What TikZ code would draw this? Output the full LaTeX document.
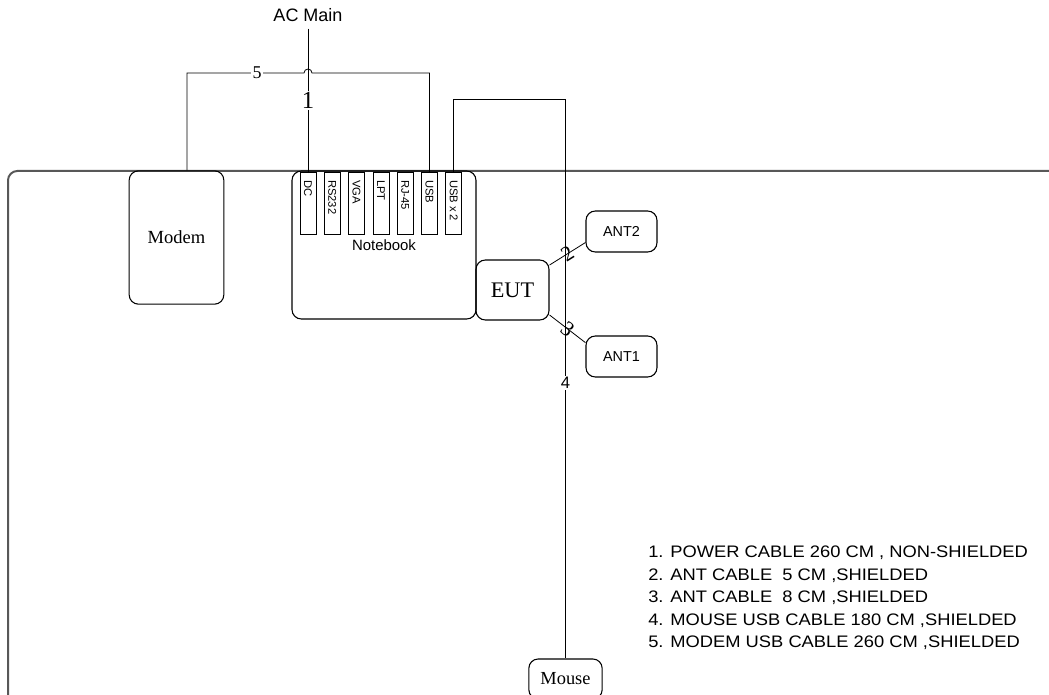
\documentclass[tikz,border=0pt]{standalone}
\usepackage{fontspec}
\setmainfont{Liberation Serif}
\setsansfont{Liberation Sans}
\newfontfamily\legendfont{Liberation Sans}[FakeStretch=1.1]
\usetikzlibrary{positioning}
\definecolor{tableGray}{RGB}{88,88,88}

\begin{document}
\begin{tikzpicture}[x=0.75pt, y=-0.75pt,
  box/.style={draw, rounded corners=7pt, line width=0.8pt, inner sep=0pt},
  port/.style={draw, line width=0.6pt, minimum width=12pt, minimum height=47pt, inner sep=0pt},
  portlbl/.style={font=\sffamily\fontsize{8.4}{9}\selectfont, inner sep=0pt, rotate=-90, anchor=west},
  cable/.style={line width=0.6pt},
  cablelbl/.style={font=\fontsize{13.5}{14}\selectfont, inner sep=1pt},
  legend/.style={font=\legendfont\fontsize{12.5}{15}\selectfont, inner sep=0pt, anchor=west}]
  \useasboundingbox (0,0) rectangle (1049,695);
  % table
  \draw[line width=1.5pt, color=tableGray, rounded corners=7pt]
    (1060,171) -- (8,171) -- (8,710);
  % equipment
  \node[box, minimum width=71pt, minimum height=100pt, font=\fontsize{13.9}{15}\selectfont]
    (modem) at (176.5,237.5) {Modem};
  \node[box, minimum width=138pt, minimum height=111pt, font=\sffamily\fontsize{11.2}{12}\selectfont]
    (notebook) at (384,245) {Notebook};
  \foreach \lbl [count=\i] in {DC,RS232,VGA,LPT,RJ-45,USB,USB x 2} {
    \node[port] (p\i) at (308+24.3*\i-24.3,203.5) {};
    \node[portlbl] at ([yshift=-6pt]p\i.north) {\lbl};
  }
  \node[box, minimum width=54.75pt, minimum height=45pt, font=\fontsize{16.7}{18}\selectfont]
    (eut) at (512.5,290) {EUT};
  \node[box, minimum width=53.25pt, minimum height=30.75pt, font=\sffamily\fontsize{10.8}{12}\selectfont]
    (ant2) at (621.5,231.5) {ANT2};
  \node[box, minimum width=53.25pt, minimum height=30.75pt, font=\sffamily\fontsize{10.8}{12}\selectfont]
    (ant1) at (621.5,356.5) {ANT1};
  \node[box, minimum width=55pt, minimum height=30pt, font=\fontsize{13.8}{15}\selectfont]
    (mouse) at (565.5,679) {Mouse};
  \node[font=\sffamily\fontsize{13.5}{15}\selectfont, inner sep=0pt]
    (acmain) at (308,15) {AC Main};
  % cables
  \draw[cable] ([yshift=-5pt]acmain.south) -- node[cablelbl, fill=white, font=\fontsize{18.5}{20}\selectfont]{1} (p1.north);
  \draw[cable] ([xshift=7.9pt]modem.north) |- node[cablelbl, fill=white, pos=0.8]{5} (304,73)
    arc[start angle=180, end angle=0, radius=3pt] -| (p6.north);
  \draw[cable] (eut.34) -- node[cablelbl, sloped, font=\fontsize{16}{17}\selectfont]{2} (ant2.197);
  \draw[cable] (eut.-34) -- node[cablelbl, sloped, font=\fontsize{16}{17}\selectfont]{3} (ant1.159);
  \draw[cable] (p7.north) |- (565.5,99) -- node[cablelbl, fill=white, pos=0.507, font=\sffamily\fontsize{12.5}{14}\selectfont]{4} (mouse.north);
  % legend
  \foreach \txt [count=\i] in {{1. POWER CABLE 260 CM , NON-SHIELDED},
      {2. ANT CABLE\ \ 5 CM ,SHIELDED}, {3. ANT CABLE\ \ 8 CM ,SHIELDED},
      {4. MOUSE USB CABLE 180 CM ,SHIELDED}, {5. MODEM USB CABLE 260 CM ,SHIELDED}}
    \node[legend] (leg\i) at (648,530.5+22.5*\i) {\txt};
\end{tikzpicture}
\end{document}
